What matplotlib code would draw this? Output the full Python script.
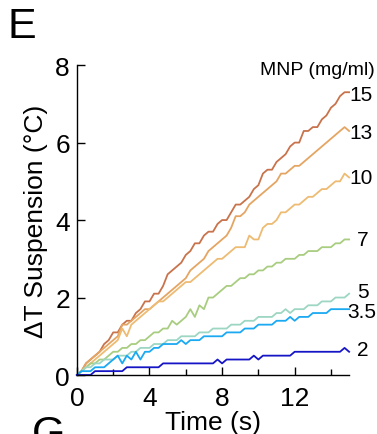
import numpy as np
import matplotlib
matplotlib.use("Agg")
from matplotlib import pyplot as plt
from matplotlib.ticker import MultipleLocator

plt.rcParams['font.family'] = ['Liberation Sans', 'DejaVu Sans']

# time axis (s), one sample every 0.25 s
time_s = np.linspace(0, 15, 61)

# temperature rise of the suspension (deg C) for each MNP concentration
dT_15 = [0, 0.1, 0.3, 0.4, 0.5, 0.6, 0.8, 0.9, 1.1, 1.1, 1.3, 1.4, 1.4, 1.6, 1.7, 1.9,
         1.9, 2.1, 2.1, 2.3, 2.6, 2.7, 2.8, 2.9, 3.1, 3.2, 3.4, 3.4, 3.6, 3.7, 3.7, 3.9,
         4.0, 4.0, 4.2, 4.4, 4.4, 4.5, 4.6, 4.8, 4.9, 5.2, 5.3, 5.3, 5.5, 5.6, 5.7, 5.9,
         6.0, 6.0, 6.3, 6.3, 6.4, 6.4, 6.6, 6.7, 6.9, 7.0, 7.2, 7.3, 7.3]
dT_13 = [0, 0.1, 0.3, 0.4, 0.5, 0.6, 0.7, 0.8, 0.9, 1.0, 1.3, 1.3, 1.4, 1.5, 1.6, 1.7,
         1.7, 1.8, 1.9, 2.0, 2.1, 2.2, 2.3, 2.4, 2.5, 2.7, 2.8, 2.9, 3.0, 3.2, 3.3, 3.4,
         3.5, 3.6, 3.8, 4.1, 4.1, 4.2, 4.4, 4.5, 4.6, 4.7, 4.8, 4.9, 5.0, 5.2, 5.2, 5.3,
         5.4, 5.4, 5.5, 5.6, 5.7, 5.8, 5.9, 6.0, 6.1, 6.2, 6.3, 6.4, 6.3]
dT_10 = [0, 0.1, 0.2, 0.3, 0.4, 0.5, 0.6, 0.7, 0.8, 0.9, 1.2, 1.0, 1.3, 1.4, 1.5, 1.6,
         1.7, 1.8, 1.9, 1.9, 2.0, 2.1, 2.2, 2.3, 2.4, 2.4, 2.5, 2.6, 2.7, 2.8, 2.9, 3.0,
         3.0, 3.1, 3.2, 3.3, 3.3, 3.3, 3.6, 3.5, 3.5, 3.8, 3.9, 3.9, 4.0, 4.2, 4.2, 4.3,
         4.4, 4.4, 4.5, 4.6, 4.6, 4.7, 4.8, 4.8, 4.9, 5.0, 5.0, 5.2, 5.1]
dT_7 = [0, 0.1, 0.2, 0.3, 0.3, 0.4, 0.4, 0.5, 0.6, 0.6, 0.7, 0.7, 0.8, 0.8, 0.9, 0.9,
        1.0, 1.1, 1.1, 1.2, 1.2, 1.4, 1.3, 1.4, 1.5, 1.7, 1.5, 1.8, 1.7, 2.0, 2.0, 2.1,
        2.2, 2.3, 2.3, 2.4, 2.5, 2.5, 2.6, 2.6, 2.7, 2.7, 2.8, 2.8, 2.9, 2.9, 3.0, 3.0,
        3.0, 3.1, 3.1, 3.2, 3.2, 3.2, 3.3, 3.3, 3.3, 3.4, 3.4, 3.5, 3.5]
dT_5 = [0, 0.1, 0.2, 0.2, 0.3, 0.3, 0.4, 0.4, 0.4, 0.5, 0.5, 0.5, 0.6, 0.6, 0.7, 0.7,
        0.7, 0.8, 0.8, 0.8, 0.9, 0.9, 0.9, 1.0, 1.0, 1.0, 1.0, 1.1, 1.1, 1.1, 1.2, 1.2,
        1.2, 1.2, 1.3, 1.3, 1.3, 1.4, 1.4, 1.4, 1.5, 1.5, 1.5, 1.5, 1.6, 1.6, 1.7, 1.6,
        1.7, 1.7, 1.7, 1.8, 1.8, 1.8, 1.9, 1.9, 1.9, 2.0, 2.0, 2.0, 2.1]
dT_3_5 = [0, 0.1, 0.1, 0.1, 0.2, 0.2, 0.2, 0.3, 0.4, 0.5, 0.3, 0.5, 0.4, 0.6, 0.4, 0.6,
          0.6, 0.7, 0.7, 0.8, 0.8, 0.8, 0.8, 0.9, 0.8, 0.9, 0.9, 0.9, 1.0, 1.0, 1.0, 1.0,
          1.0, 1.1, 1.1, 1.1, 1.1, 1.2, 1.2, 1.2, 1.3, 1.3, 1.3, 1.3, 1.4, 1.4, 1.4, 1.5,
          1.4, 1.5, 1.5, 1.5, 1.6, 1.6, 1.6, 1.6, 1.7, 1.7, 1.7, 1.7, 1.7]
dT_2 = [0, 0, 0, 0, 0.1, 0.1, 0.1, 0.1, 0.1, 0.1, 0.1, 0.2, 0.2, 0.2, 0.2, 0.2,
        0.2, 0.2, 0.2, 0.3, 0.3, 0.3, 0.3, 0.3, 0.3, 0.3, 0.3, 0.3, 0.3, 0.3, 0.3, 0.4,
        0.3, 0.4, 0.4, 0.4, 0.4, 0.4, 0.4, 0.5, 0.4, 0.5, 0.5, 0.5, 0.5, 0.5, 0.5, 0.5,
        0.6, 0.6, 0.6, 0.6, 0.6, 0.6, 0.6, 0.6, 0.6, 0.6, 0.6, 0.7, 0.6]

conc_labels = ["15", "13", "10", "7", "5", "3.5", "2"]
series = [dT_15, dT_13, dT_10, dT_7, dT_5, dT_3_5, dT_2]
colors = ["#c8734b", "#e5a562", "#edbb72", "#a9cd80", "#9dd6c2", "#1ba9f2", "#1515c6"]
# where each concentration label sits, (time, dT)
label_pos = [(15.0, 7.25), (15.0, 6.25), (15.0, 5.1), (15.45, 3.5),
             (15.45, 2.15), (14.9, 1.65), (15.45, 0.65)]

fig = plt.figure(figsize=(3.77, 4.35), dpi=100)
ax = fig.add_axes([0.204, 0.1356, 0.722, 0.7124])

for vals, c in zip(series, colors):
    ax.plot(time_s, vals, color=c, lw=1.3, clip_on=False)

for lab, (tx, ty) in zip(conc_labels, label_pos):
    ax.text(tx, ty, lab, fontsize=15, va='center', ha='left', clip_on=False)
ax.text(1.093, 0.985, "MNP (mg/ml)", transform=ax.transAxes, fontsize=14,
        ha='right', va='center', clip_on=False)

ax.set_xlim(0, 15)
ax.set_ylim(0, 8)
ax.xaxis.set_major_locator(MultipleLocator(4))
ax.xaxis.set_minor_locator(MultipleLocator(2))
ax.yaxis.set_major_locator(MultipleLocator(2))
ax.spines['top'].set_visible(False)
ax.spines['right'].set_visible(False)
for s in ['left', 'bottom']:
    ax.spines[s].set_linewidth(1.0)
ax.tick_params(which='major', direction='in', length=6, width=1.0, labelsize=19, pad=5)
ax.tick_params(axis='x', which='major', pad=8)
ax.tick_params(which='minor', direction='in', length=4, width=1.0)
ax.set_xlabel("Time (s)", fontsize=19, labelpad=0)
ax.set_ylabel("ΔT Suspension (°C)", fontsize=19, labelpad=5)

fig.text(0.02, 0.985, "E", fontsize=31, va='top', ha='left')
fig.text(0.085, 0.045, "G", fontsize=31, va='top', ha='left')

fig.savefig("out.png", dpi=100)
